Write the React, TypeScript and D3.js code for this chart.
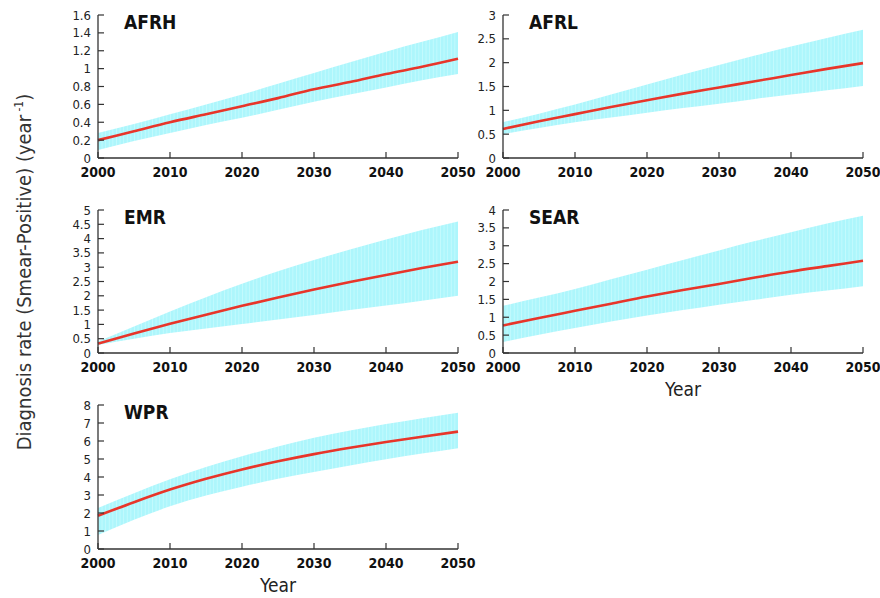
import React from "react";
import * as d3 from "d3";

const years = [2000, 2005, 2010, 2015, 2020, 2025, 2030, 2035, 2040, 2045, 2050];
const xTicks = [2000, 2010, 2020, 2030, 2040, 2050];

const afrhMean = [0.2, 0.3, 0.4, 0.49, 0.58, 0.67, 0.77, 0.85, 0.94, 1.02, 1.11];
const afrhUpper = [0.28, 0.38, 0.49, 0.6, 0.71, 0.83, 0.95, 1.07, 1.19, 1.3, 1.41];
const afrhLower = [0.09, 0.19, 0.28, 0.37, 0.45, 0.54, 0.63, 0.71, 0.79, 0.87, 0.94];
const afrhTicks = [0, 0.2, 0.4, 0.6, 0.8, 1, 1.2, 1.4, 1.6];

const afrlMean = [0.61, 0.77, 0.92, 1.07, 1.21, 1.35, 1.48, 1.61, 1.74, 1.87, 1.99];
const afrlUpper = [0.75, 0.93, 1.12, 1.33, 1.54, 1.75, 1.95, 2.15, 2.34, 2.52, 2.69];
const afrlLower = [0.5, 0.63, 0.75, 0.85, 0.95, 1.05, 1.14, 1.24, 1.33, 1.42, 1.51];
const afrlTicks = [0, 0.5, 1, 1.5, 2, 2.5, 3];

const emrMean = [0.33, 0.68, 1.02, 1.34, 1.65, 1.94, 2.22, 2.48, 2.73, 2.97, 3.19];
const emrUpper = [0.4, 0.93, 1.45, 1.95, 2.42, 2.86, 3.25, 3.62, 3.97, 4.3, 4.6];
const emrLower = [0.28, 0.5, 0.7, 0.86, 1.01, 1.17, 1.33, 1.5, 1.66, 1.83, 2.0];
const emrTicks = [0, 0.5, 1, 1.5, 2, 2.5, 3, 3.5, 4, 4.5, 5];

const searMean = [0.77, 0.98, 1.18, 1.38, 1.58, 1.76, 1.93, 2.11, 2.28, 2.43, 2.58];
const searUpper = [1.32, 1.55, 1.79, 2.06, 2.33, 2.6, 2.87, 3.13, 3.38, 3.62, 3.84];
const searLower = [0.31, 0.51, 0.7, 0.88, 1.05, 1.2, 1.35, 1.49, 1.63, 1.75, 1.87];
const searTicks = [0, 0.5, 1, 1.5, 2, 2.5, 3, 3.5, 4];

const wprMean = [1.85, 2.6, 3.3, 3.9, 4.42, 4.87, 5.27, 5.62, 5.94, 6.24, 6.52];
const wprUpper = [2.28, 3.1, 3.87, 4.55, 5.15, 5.7, 6.18, 6.58, 6.94, 7.27, 7.57];
const wprLower = [0.78, 1.62, 2.37, 2.97, 3.46, 3.9, 4.28, 4.64, 4.98, 5.3, 5.6];
const wprTicks = [0, 1, 2, 3, 4, 5, 6, 7, 8];

const FONT = "'DejaVu Sans Condensed', 'DejaVu Sans', sans-serif";

type PanelProps = {
  id: string;
  title: string;
  mean: number[];
  upper: number[];
  lower: number[];
  ticks: number[];
  left: number;
  top: number;
  bottom: number;
  showYear?: boolean;
};

function Panel({ id, title, mean, upper, lower, ticks, left, top, bottom, showYear }: PanelProps) {
  const width = 360;
  const x = d3.scaleLinear().domain([2000, 2050]).range([left, left + width]);
  const yMax = ticks[ticks.length - 1];
  const y = d3.scaleLinear().domain([0, yMax]).range([bottom, top]);
  const idx = years.map((_, i) => i);
  const area = d3
    .area<number>()
    .x((i) => x(years[i]))
    .y0((i) => y(lower[i]))
    .y1((i) => y(upper[i]))
    .curve(d3.curveMonotoneX);
  const line = d3
    .line<number>()
    .x((i) => x(years[i]))
    .y((i) => y(mean[i]))
    .curve(d3.curveMonotoneX);
  const fmt = (v: number) => String(v);
  const txt = { fontFamily: FONT, fontStretch: "condensed" } as React.CSSProperties;
  return (
    <g>
      <defs>
        <pattern id={"stripe" + id} patternUnits="userSpaceOnUse" x={left} y={0} width={3.6} height={10}>
          <rect x={0} y={0} width={3.6} height={10} fill="#adf6fc" />
          <rect x={0} y={0} width={0.9} height={10} fill="#c4fafd" />
        </pattern>
      </defs>
      <path d={area(idx) || ""} fill={"url(#stripe" + id + ")"} stroke="none" />
      <path d={line(idx) || ""} fill="none" stroke="#e8352a" strokeWidth={2.6} />
      <line x1={left} x2={left} y1={top} y2={bottom} stroke="#333" strokeWidth={1.3} />
      <line x1={left} x2={left + width} y1={bottom} y2={bottom} stroke="#333" strokeWidth={1.3} />
      {ticks.map((t) => (
        <g key={"y" + t}>
          <line x1={left} x2={left + 6} y1={y(t)} y2={y(t)} stroke="#333" strokeWidth={1.2} />
          <text x={left - 7} y={y(t)} dy="0.35em" textAnchor="end" fontSize={13} style={txt} fill="#222">
            {fmt(t)}
          </text>
        </g>
      ))}
      {xTicks.map((t) => (
        <g key={"x" + t}>
          <line x1={x(t)} x2={x(t)} y1={bottom} y2={bottom - 6} stroke="#333" strokeWidth={1.2} />
          <text x={x(t)} y={bottom + 19} textAnchor="middle" fontSize={14} fontWeight="bold" style={txt} fill="#111">
            {t}
          </text>
        </g>
      ))}
      <text x={left + 26} y={top + 14} fontSize={19} fontWeight="bold" style={txt} fill="#111">
        {title}
      </text>
      {showYear && (
        <text x={left + width / 2} y={bottom + 43} textAnchor="middle" fontSize={19} style={txt} fill="#222">
          Year
        </text>
      )}
    </g>
  );
}

export default function App() {
  return (
    <svg width={880} height={598} style={{ position: "absolute", left: 0, top: 0, background: "#fff" }}>
      <Panel id="a" title="AFRH" mean={afrhMean} upper={afrhUpper} lower={afrhLower} ticks={afrhTicks} left={98} top={15} bottom={158} />
      <Panel id="b" title="AFRL" mean={afrlMean} upper={afrlUpper} lower={afrlLower} ticks={afrlTicks} left={503} top={15} bottom={158} />
      <Panel id="c" title="EMR" mean={emrMean} upper={emrUpper} lower={emrLower} ticks={emrTicks} left={98} top={210} bottom={353} />
      <Panel id="d" title="SEAR" mean={searMean} upper={searUpper} lower={searLower} ticks={searTicks} left={503} top={210} bottom={353} showYear />
      <Panel id="e" title="WPR" mean={wprMean} upper={wprUpper} lower={wprLower} ticks={wprTicks} left={98} top={405} bottom={549} showYear />
      <text
        transform="translate(31,272) rotate(-90)"
        textAnchor="middle"
        fontSize={20}
        style={{ fontFamily: FONT, fontStretch: "condensed" }}
        fill="#333"
      >
        Diagnosis rate (Smear-Positive) (year
        <tspan dy={-8} fontSize={12}> -1</tspan>
        <tspan dy={8}>)</tspan>
      </text>
    </svg>
  );
}
